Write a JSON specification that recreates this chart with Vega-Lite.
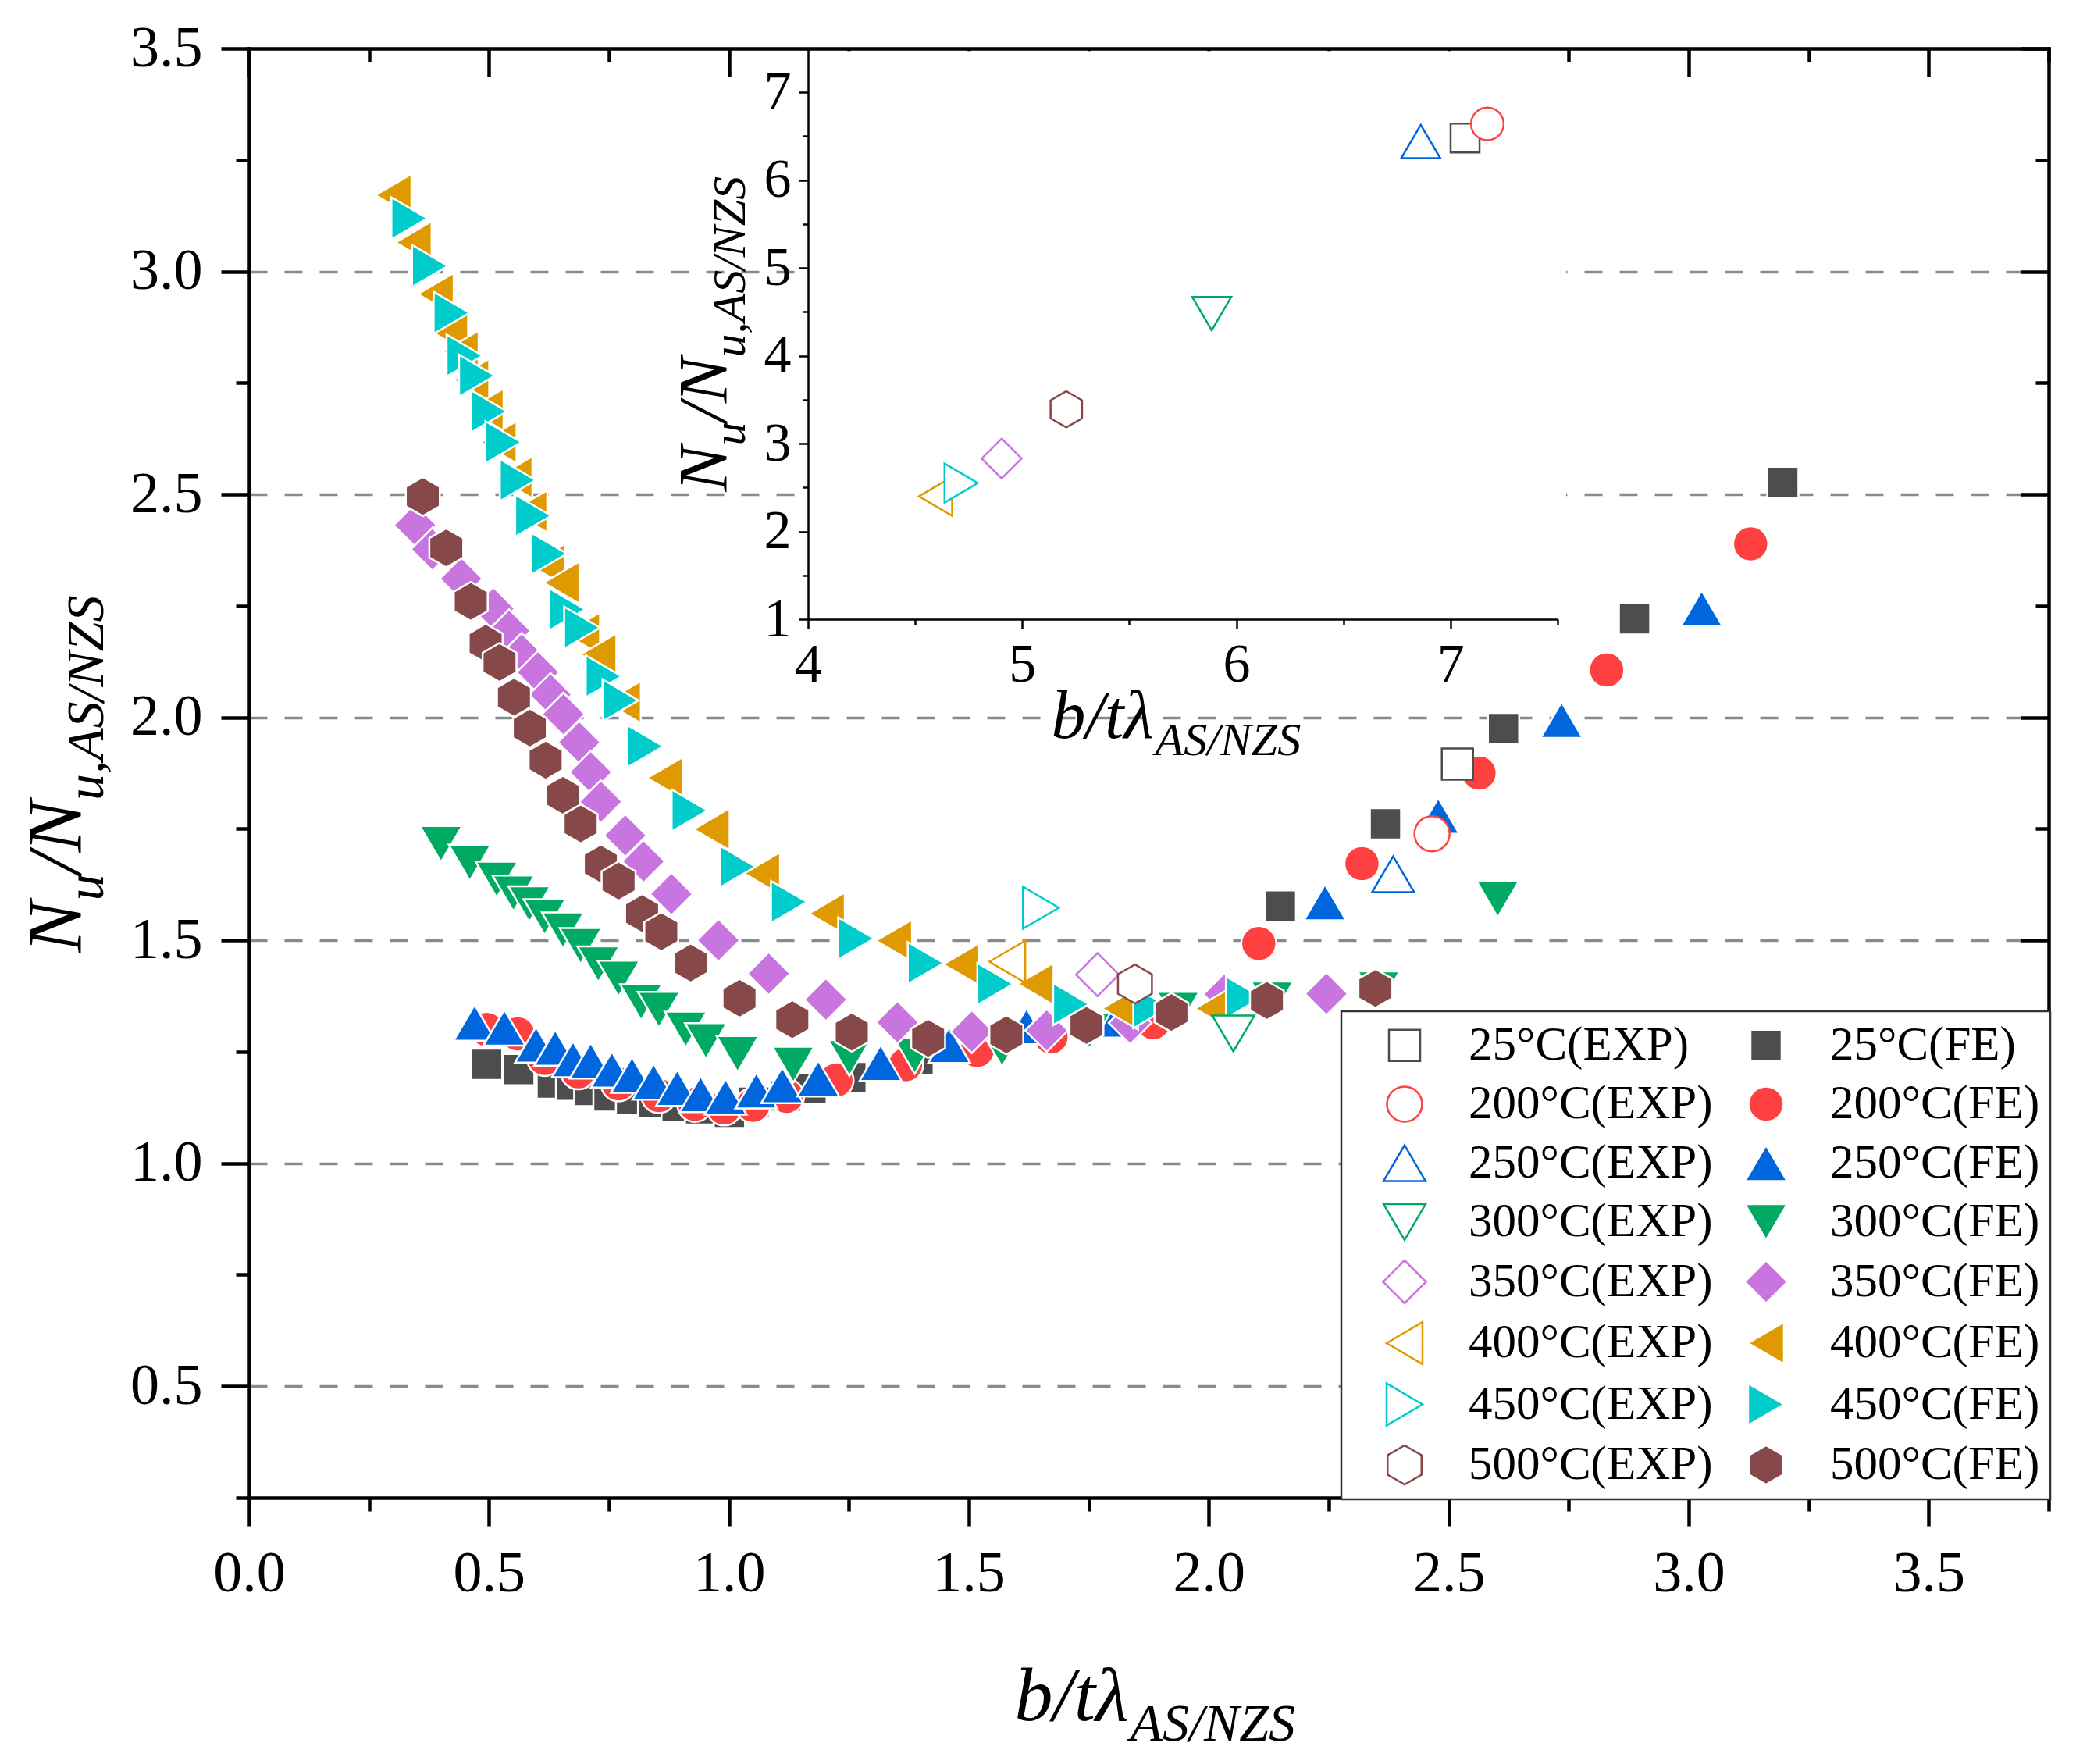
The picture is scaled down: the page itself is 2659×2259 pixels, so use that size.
{
  "$schema": "https://vega.github.io/schema/vega-lite/v6.json",
  "width": 2305,
  "height": 1856,
  "autosize": "none",
  "padding": {"left": 319, "top": 62, "right": 35, "bottom": 341},
  "background": "white",
  "datasets": {
    "main": [
      {"s": "25°C(FE)", "x": 0.495, "y": 1.222}, {"s": "25°C(FE)", "x": 0.562, "y": 1.21}, {"s": "25°C(FE)", "x": 0.632, "y": 1.18},
      {"s": "25°C(FE)", "x": 0.672, "y": 1.175}, {"s": "25°C(FE)", "x": 0.71, "y": 1.163}, {"s": "25°C(FE)", "x": 0.75, "y": 1.151},
      {"s": "25°C(FE)", "x": 0.797, "y": 1.144}, {"s": "25°C(FE)", "x": 0.843, "y": 1.137}, {"s": "25°C(FE)", "x": 0.892, "y": 1.128},
      {"s": "25°C(FE)", "x": 0.941, "y": 1.122}, {"s": "25°C(FE)", "x": 1.001, "y": 1.114}, {"s": "25°C(FE)", "x": 1.052, "y": 1.137},
      {"s": "25°C(FE)", "x": 1.118, "y": 1.151}, {"s": "25°C(FE)", "x": 1.171, "y": 1.167}, {"s": "25°C(FE)", "x": 1.254, "y": 1.192},
      {"s": "25°C(FE)", "x": 1.394, "y": 1.233}, {"s": "25°C(FE)", "x": 2.149, "y": 1.577}, {"s": "25°C(FE)", "x": 2.368, "y": 1.761},
      {"s": "25°C(FE)", "x": 2.614, "y": 1.975}, {"s": "25°C(FE)", "x": 2.887, "y": 2.221}, {"s": "25°C(FE)", "x": 3.196, "y": 2.527},

      {"s": "200°C(FE)", "x": 0.495, "y": 1.3}, {"s": "200°C(FE)", "x": 0.56, "y": 1.29}, {"s": "200°C(FE)", "x": 0.616, "y": 1.235},
      {"s": "200°C(FE)", "x": 0.686, "y": 1.205}, {"s": "200°C(FE)", "x": 0.77, "y": 1.178}, {"s": "200°C(FE)", "x": 0.854, "y": 1.152},
      {"s": "200°C(FE)", "x": 0.929, "y": 1.132}, {"s": "200°C(FE)", "x": 0.99, "y": 1.124}, {"s": "200°C(FE)", "x": 1.05, "y": 1.13},
      {"s": "200°C(FE)", "x": 1.12, "y": 1.15}, {"s": "200°C(FE)", "x": 1.223, "y": 1.186}, {"s": "200°C(FE)", "x": 1.368, "y": 1.221},
      {"s": "200°C(FE)", "x": 1.517, "y": 1.253}, {"s": "200°C(FE)", "x": 1.671, "y": 1.283}, {"s": "200°C(FE)", "x": 1.884, "y": 1.315},
      {"s": "200°C(FE)", "x": 2.104, "y": 1.493}, {"s": "200°C(FE)", "x": 2.319, "y": 1.672}, {"s": "200°C(FE)", "x": 2.563, "y": 1.875},
      {"s": "200°C(FE)", "x": 2.829, "y": 2.106}, {"s": "200°C(FE)", "x": 3.129, "y": 2.389},

      {"s": "250°C(FE)", "x": 0.47, "y": 1.315}, {"s": "250°C(FE)", "x": 0.532, "y": 1.304}, {"s": "250°C(FE)", "x": 0.598, "y": 1.266},
      {"s": "250°C(FE)", "x": 0.638, "y": 1.259}, {"s": "250°C(FE)", "x": 0.675, "y": 1.233}, {"s": "250°C(FE)", "x": 0.712, "y": 1.23},
      {"s": "250°C(FE)", "x": 0.756, "y": 1.21}, {"s": "250°C(FE)", "x": 0.798, "y": 1.198}, {"s": "250°C(FE)", "x": 0.843, "y": 1.183},
      {"s": "250°C(FE)", "x": 0.892, "y": 1.169}, {"s": "250°C(FE)", "x": 0.941, "y": 1.155}, {"s": "250°C(FE)", "x": 0.993, "y": 1.149},
      {"s": "250°C(FE)", "x": 1.057, "y": 1.163}, {"s": "250°C(FE)", "x": 1.111, "y": 1.175}, {"s": "250°C(FE)", "x": 1.186, "y": 1.19},
      {"s": "250°C(FE)", "x": 1.316, "y": 1.225}, {"s": "250°C(FE)", "x": 1.459, "y": 1.265}, {"s": "250°C(FE)", "x": 1.62, "y": 1.307},
      {"s": "250°C(FE)", "x": 1.796, "y": 1.322}, {"s": "250°C(FE)", "x": 2.242, "y": 1.585}, {"s": "250°C(FE)", "x": 2.478, "y": 1.779},
      {"s": "250°C(FE)", "x": 2.735, "y": 1.994}, {"s": "250°C(FE)", "x": 3.027, "y": 2.244},

      {"s": "300°C(FE)", "x": 0.4, "y": 1.716}, {"s": "300°C(FE)", "x": 0.46, "y": 1.674}, {"s": "300°C(FE)", "x": 0.516, "y": 1.636},
      {"s": "300°C(FE)", "x": 0.551, "y": 1.605}, {"s": "300°C(FE)", "x": 0.584, "y": 1.581}, {"s": "300°C(FE)", "x": 0.616, "y": 1.552},
      {"s": "300°C(FE)", "x": 0.654, "y": 1.522}, {"s": "300°C(FE)", "x": 0.691, "y": 1.487}, {"s": "300°C(FE)", "x": 0.728, "y": 1.446},
      {"s": "300°C(FE)", "x": 0.77, "y": 1.414}, {"s": "300°C(FE)", "x": 0.817, "y": 1.361}, {"s": "300°C(FE)", "x": 0.854, "y": 1.344},
      {"s": "300°C(FE)", "x": 0.91, "y": 1.3}, {"s": "300°C(FE)", "x": 0.952, "y": 1.274}, {"s": "300°C(FE)", "x": 1.018, "y": 1.245},
      {"s": "300°C(FE)", "x": 1.134, "y": 1.221}, {"s": "300°C(FE)", "x": 1.251, "y": 1.236}, {"s": "300°C(FE)", "x": 1.387, "y": 1.241},
      {"s": "300°C(FE)", "x": 1.569, "y": 1.257}, {"s": "300°C(FE)", "x": 1.751, "y": 1.297}, {"s": "300°C(FE)", "x": 1.936, "y": 1.344},
      {"s": "300°C(FE)", "x": 2.132, "y": 1.367}, {"s": "300°C(FE)", "x": 2.354, "y": 1.39}, {"s": "300°C(FE)", "x": 2.602, "y": 1.592},

      {"s": "350°C(FE)", "x": 0.346, "y": 2.431}, {"s": "350°C(FE)", "x": 0.382, "y": 2.377}, {"s": "350°C(FE)", "x": 0.442, "y": 2.311},
      {"s": "350°C(FE)", "x": 0.509, "y": 2.244}, {"s": "350°C(FE)", "x": 0.542, "y": 2.194}, {"s": "350°C(FE)", "x": 0.568, "y": 2.141},
      {"s": "350°C(FE)", "x": 0.602, "y": 2.101}, {"s": "350°C(FE)", "x": 0.628, "y": 2.051}, {"s": "350°C(FE)", "x": 0.655, "y": 2.007},
      {"s": "350°C(FE)", "x": 0.688, "y": 1.944}, {"s": "350°C(FE)", "x": 0.712, "y": 1.877}, {"s": "350°C(FE)", "x": 0.733, "y": 1.811},
      {"s": "350°C(FE)", "x": 0.784, "y": 1.735}, {"s": "350°C(FE)", "x": 0.822, "y": 1.677}, {"s": "350°C(FE)", "x": 0.88, "y": 1.604},
      {"s": "350°C(FE)", "x": 0.978, "y": 1.5}, {"s": "350°C(FE)", "x": 1.083, "y": 1.425}, {"s": "350°C(FE)", "x": 1.202, "y": 1.367},
      {"s": "350°C(FE)", "x": 1.351, "y": 1.316}, {"s": "350°C(FE)", "x": 1.506, "y": 1.295}, {"s": "350°C(FE)", "x": 1.662, "y": 1.298},
      {"s": "350°C(FE)", "x": 1.836, "y": 1.315}, {"s": "350°C(FE)", "x": 2.033, "y": 1.379}, {"s": "350°C(FE)", "x": 2.245, "y": 1.38},

      {"s": "400°C(FE)", "x": 0.301, "y": 3.171}, {"s": "400°C(FE)", "x": 0.343, "y": 3.065}, {"s": "400°C(FE)", "x": 0.389, "y": 2.949},
      {"s": "400°C(FE)", "x": 0.419, "y": 2.864}, {"s": "400°C(FE)", "x": 0.441, "y": 2.82}, {"s": "400°C(FE)", "x": 0.463, "y": 2.757},
      {"s": "400°C(FE)", "x": 0.493, "y": 2.69}, {"s": "400°C(FE)", "x": 0.52, "y": 2.617}, {"s": "400°C(FE)", "x": 0.553, "y": 2.538},
      {"s": "400°C(FE)", "x": 0.584, "y": 2.462}, {"s": "400°C(FE)", "x": 0.621, "y": 2.342}, {"s": "400°C(FE)", "x": 0.651, "y": 2.302},
      {"s": "400°C(FE)", "x": 0.694, "y": 2.188}, {"s": "400°C(FE)", "x": 0.728, "y": 2.141}, {"s": "400°C(FE)", "x": 0.779, "y": 2.034},
      {"s": "400°C(FE)", "x": 0.867, "y": 1.864}, {"s": "400°C(FE)", "x": 0.964, "y": 1.749}, {"s": "400°C(FE)", "x": 1.069, "y": 1.65},
      {"s": "400°C(FE)", "x": 1.204, "y": 1.56}, {"s": "400°C(FE)", "x": 1.344, "y": 1.499}, {"s": "400°C(FE)", "x": 1.484, "y": 1.446},
      {"s": "400°C(FE)", "x": 1.639, "y": 1.402}, {"s": "400°C(FE)", "x": 1.815, "y": 1.347}, {"s": "400°C(FE)", "x": 2.009, "y": 1.347},

      {"s": "450°C(FE)", "x": 0.334, "y": 3.119}, {"s": "450°C(FE)", "x": 0.377, "y": 3.012}, {"s": "450°C(FE)", "x": 0.422, "y": 2.907},
      {"s": "450°C(FE)", "x": 0.449, "y": 2.811}, {"s": "450°C(FE)", "x": 0.475, "y": 2.766}, {"s": "450°C(FE)", "x": 0.5, "y": 2.686},
      {"s": "450°C(FE)", "x": 0.53, "y": 2.617}, {"s": "450°C(FE)", "x": 0.56, "y": 2.532}, {"s": "450°C(FE)", "x": 0.592, "y": 2.452},
      {"s": "450°C(FE)", "x": 0.625, "y": 2.367}, {"s": "450°C(FE)", "x": 0.663, "y": 2.242}, {"s": "450°C(FE)", "x": 0.694, "y": 2.201},
      {"s": "450°C(FE)", "x": 0.739, "y": 2.092}, {"s": "450°C(FE)", "x": 0.774, "y": 2.038}, {"s": "450°C(FE)", "x": 0.826, "y": 1.935},
      {"s": "450°C(FE)", "x": 0.918, "y": 1.791}, {"s": "450°C(FE)", "x": 1.018, "y": 1.665}, {"s": "450°C(FE)", "x": 1.125, "y": 1.586},
      {"s": "450°C(FE)", "x": 1.265, "y": 1.504}, {"s": "450°C(FE)", "x": 1.41, "y": 1.449}, {"s": "450°C(FE)", "x": 1.555, "y": 1.402},
      {"s": "450°C(FE)", "x": 1.713, "y": 1.357}, {"s": "450°C(FE)", "x": 1.88, "y": 1.35}, {"s": "450°C(FE)", "x": 2.073, "y": 1.372},

      {"s": "500°C(FE)", "x": 0.362, "y": 2.495}, {"s": "500°C(FE)", "x": 0.411, "y": 2.38}, {"s": "500°C(FE)", "x": 0.462, "y": 2.26},
      {"s": "500°C(FE)", "x": 0.493, "y": 2.166}, {"s": "500°C(FE)", "x": 0.522, "y": 2.123}, {"s": "500°C(FE)", "x": 0.552, "y": 2.045},
      {"s": "500°C(FE)", "x": 0.585, "y": 1.976}, {"s": "500°C(FE)", "x": 0.618, "y": 1.904}, {"s": "500°C(FE)", "x": 0.654, "y": 1.825},
      {"s": "500°C(FE)", "x": 0.691, "y": 1.761}, {"s": "500°C(FE)", "x": 0.733, "y": 1.671}, {"s": "500°C(FE)", "x": 0.77, "y": 1.633},
      {"s": "500°C(FE)", "x": 0.819, "y": 1.56}, {"s": "500°C(FE)", "x": 0.859, "y": 1.519}, {"s": "500°C(FE)", "x": 0.92, "y": 1.449},
      {"s": "500°C(FE)", "x": 1.022, "y": 1.37}, {"s": "500°C(FE)", "x": 1.132, "y": 1.322}, {"s": "500°C(FE)", "x": 1.256, "y": 1.294},
      {"s": "500°C(FE)", "x": 1.415, "y": 1.28}, {"s": "500°C(FE)", "x": 1.578, "y": 1.288}, {"s": "500°C(FE)", "x": 1.745, "y": 1.309},
      {"s": "500°C(FE)", "x": 1.922, "y": 1.338}, {"s": "500°C(FE)", "x": 2.121, "y": 1.365}, {"s": "500°C(FE)", "x": 2.347, "y": 1.392},

      {"s": "25°C(EXP)", "x": 2.518, "y": 1.895}, {"s": "200°C(EXP)", "x": 2.465, "y": 1.739},
      {"s": "250°C(EXP)", "x": 2.384, "y": 1.648}, {"s": "300°C(EXP)", "x": 2.051, "y": 1.291},
      {"s": "350°C(EXP)", "x": 1.768, "y": 1.423}, {"s": "400°C(EXP)", "x": 1.58, "y": 1.452},
      {"s": "450°C(EXP)", "x": 1.65, "y": 1.573}, {"s": "500°C(EXP)", "x": 1.846, "y": 1.402}
    ],
    "inset": [
      {"s": "400°C(EXP)", "x": 4.595, "y": 2.4}, {"s": "450°C(EXP)", "x": 4.715, "y": 2.55},
      {"s": "350°C(EXP)", "x": 4.904, "y": 2.83}, {"s": "500°C(EXP)", "x": 5.206, "y": 3.39},
      {"s": "300°C(EXP)", "x": 5.885, "y": 4.48}, {"s": "250°C(EXP)", "x": 6.861, "y": 6.44},
      {"s": "25°C(EXP)", "x": 7.068, "y": 6.48}, {"s": "200°C(EXP)", "x": 7.172, "y": 6.64}
    ]
  },
  "layer": [
    {
      "data": {"name": "main"},
      "mark": {"type": "point", "opacity": 0},
      "encoding": {
        "x": {
          "field": "x", "type": "quantitative",
          "scale": {"domain": [0, 3.75], "nice": false, "zero": false},
          "axis": {"orient": "bottom", "domain": false, "ticks": false, "labels": false, "grid": false,
            "title": "u,AS/NZS", "titleFontSize": 68, "titleAngle": 270, "titleAlign": "left", "titleBaseline": "alphabetic", "titleX": -188, "titleY": -893.5}
        },
        "y": {
          "field": "y", "type": "quantitative",
          "scale": {"domain": [0.25, 3.5], "nice": false, "zero": false},
          "axis": {"orient": "left", "domain": false, "ticks": false, "labels": false, "grid": false,
            "title": "/N", "titleFontSize": 100, "titleAngle": 270, "titleAlign": "left", "titleBaseline": "alphabetic", "titleX": -217, "titleY": 1057}
        }
      }
    },
    {
      "data": {"name": "main"},
      "transform": [{"filter": "indexof(datum.s, 'FE') >= 0"}],
      "mark": {"type": "point", "size": 3025, "strokeWidth": 2.5, "opacity": 1},
      "encoding": {
        "x": {
          "field": "x", "type": "quantitative",
          "scale": {"domain": [0, 3.75], "nice": false, "zero": false},
          "axis": {
            "orient": "bottom",
            "values": [0, 0.25, 0.5, 0.75, 1, 1.25, 1.5, 1.75, 2, 2.25, 2.5, 2.75, 3, 3.25, 3.5, 3.75],
            "labelExpr": "abs(datum.value*2-round(datum.value*2))<0.01 ? format(datum.value,'.1f') : ''",
            "tickSize": {"condition": {"test": "abs(datum.value*2-round(datum.value*2))<0.01", "value": 36}, "value": 17},
            "tickWidth": 4.5, "domainWidth": 4.5, "domainCap": "square",
            "labelFontSize": 74, "labelPadding": 25,
            "title": "b/tλ", "titleFontSize": 98, "titleAngle": 0, "titleAlign": "right", "titleBaseline": "alphabetic", "titleX": 1126, "titleY": 284
          }
        },
        "y": {
          "field": "y", "type": "quantitative",
          "scale": {"domain": [0.25, 3.5], "nice": false, "zero": false},
          "axis": {
            "orient": "left",
            "values": [0.25, 0.5, 0.75, 1, 1.25, 1.5, 1.75, 2, 2.25, 2.5, 2.75, 3, 3.25, 3.5],
            "labelExpr": "abs(datum.value*2-round(datum.value*2))<0.01 ? format(datum.value,'.1f') : ''",
            "tickSize": {"condition": {"test": "abs(datum.value*2-round(datum.value*2))<0.01", "value": 36}, "value": 17},
            "tickWidth": 4.5, "domainWidth": 4.5, "domainCap": "square",
            "labelFontSize": 74, "labelPadding": 24,
            "grid": true, "gridColor": "#8a8a8a", "gridDash": [23, 22], "gridWidth": 3.5,
            "gridOpacity": {"condition": {"test": "abs(datum.value*2-round(datum.value*2))<0.01 && datum.value<3.4", "value": 1}, "value": 0},
            "title": "N", "titleFontSize": 100, "titleAngle": 270, "titleAlign": "left", "titleBaseline": "alphabetic", "titleX": -217, "titleY": 1158
          }
        },
        "shape": {
          "field": "s", "type": "nominal",
          "scale": {
            "domain": ["25°C(EXP)", "25°C(FE)", "200°C(EXP)", "200°C(FE)", "250°C(EXP)", "250°C(FE)", "300°C(EXP)", "300°C(FE)", "350°C(EXP)", "350°C(FE)", "400°C(EXP)", "400°C(FE)", "450°C(EXP)", "450°C(FE)", "500°C(EXP)", "500°C(FE)"],
            "range": [
              "M-0.727,-0.727L0.727,-0.727L0.727,0.727L-0.727,0.727Z", "M-0.727,-0.727L0.727,-0.727L0.727,0.727L-0.727,0.727Z",
              "M-0.818,0A0.818,0.818,0,1,1,0.818,0A0.818,0.818,0,1,1,-0.818,0Z", "M-0.818,0A0.818,0.818,0,1,1,0.818,0A0.818,0.818,0,1,1,-0.818,0Z",
              "M0,-0.836L0.98,0.836L-0.98,0.836Z", "M0,-0.836L0.98,0.836L-0.98,0.836Z",
              "M0,0.836L0.98,-0.836L-0.98,-0.836Z", "M0,0.836L0.98,-0.836L-0.98,-0.836Z",
              "M0,-1L1,0L0,1L-1,0Z", "M0,-1L1,0L0,1L-1,0Z",
              "M-0.836,0L0.836,-0.98L0.836,0.98Z", "M-0.836,0L0.836,-0.98L0.836,0.98Z",
              "M0.836,0L-0.836,-0.98L-0.836,0.98Z", "M0.836,0L-0.836,-0.98L-0.836,0.98Z",
              "M0,-0.91L0.79,-0.455L0.79,0.455L0,0.91L-0.79,0.455L-0.79,-0.455Z", "M0,-0.91L0.79,-0.455L0.79,0.455L0,0.91L-0.79,0.455L-0.79,-0.455Z"
            ]
          },
          "legend": {"title": null, "orient": "none", "legendX": 1399, "legendY": 1233, "columns": 2, "direction": "horizontal"}
        },
        "fill": {
          "field": "s", "type": "nominal",
          "scale": {
            "domain": ["25°C(EXP)", "25°C(FE)", "200°C(EXP)", "200°C(FE)", "250°C(EXP)", "250°C(FE)", "300°C(EXP)", "300°C(FE)", "350°C(EXP)", "350°C(FE)", "400°C(EXP)", "400°C(FE)", "450°C(EXP)", "450°C(FE)", "500°C(EXP)", "500°C(FE)"],
            "range": ["white", "#4d4d4d", "white", "#ff4040", "white", "#0066dd", "white", "#00aa63", "white", "#c875e0", "white", "#de9a00", "white", "#00cccc", "white", "#864848"]
          },
          "legend": {"title": null, "orient": "none", "legendX": 1399, "legendY": 1233, "columns": 2, "direction": "horizontal"}
        },
        "stroke": {
          "field": "s", "type": "nominal",
          "scale": {
            "domain": ["25°C(EXP)", "25°C(FE)", "200°C(EXP)", "200°C(FE)", "250°C(EXP)", "250°C(FE)", "300°C(EXP)", "300°C(FE)", "350°C(EXP)", "350°C(FE)", "400°C(EXP)", "400°C(FE)", "450°C(EXP)", "450°C(FE)", "500°C(EXP)", "500°C(FE)"],
            "range": ["#4d4d4d", "white", "#ff4040", "white", "#0066dd", "white", "#00aa63", "white", "#c875e0", "white", "#de9a00", "white", "#00cccc", "white", "#864848", "white"]
          },
          "legend": {"title": null, "orient": "none", "legendX": 1399, "legendY": 1233, "columns": 2, "direction": "horizontal"}
        }
      }
    },
    {
      "data": {"name": "main"},
      "transform": [{"filter": "indexof(datum.s, 'EXP') >= 0"}],
      "mark": {"type": "point", "size": 3025, "strokeWidth": 2.5, "opacity": 1},
      "encoding": {
        "x": {
          "field": "x", "type": "quantitative",
          "scale": {"domain": [0, 3.75], "nice": false, "zero": false},
          "axis": {
            "orient": "top",
            "values": [0, 0.25, 0.5, 0.75, 1, 1.25, 1.5, 1.75, 2, 2.25, 2.5, 2.75, 3, 3.25, 3.5, 3.75],
            "labels": false,
            "tickSize": {"condition": {"test": "abs(datum.value*2-round(datum.value*2))<0.01", "value": -36}, "value": -17},
            "tickWidth": 4.5, "domainWidth": 4.5, "domainCap": "square",
            "title": "AS/NZS", "titleFontSize": 68, "titleAngle": 0, "titleAlign": "left", "titleBaseline": "alphabetic", "titleX": 1128, "titleY": 2166
          }
        },
        "y": {
          "field": "y", "type": "quantitative",
          "scale": {"domain": [0.25, 3.5], "nice": false, "zero": false},
          "axis": {
            "orient": "right",
            "values": [0.25, 0.5, 0.75, 1, 1.25, 1.5, 1.75, 2, 2.25, 2.5, 2.75, 3, 3.25, 3.5],
            "labels": false,
            "tickSize": {"condition": {"test": "abs(datum.value*2-round(datum.value*2))<0.01", "value": -36}, "value": -17},
            "tickWidth": 4.5, "domainWidth": 4.5, "domainCap": "square",
            "title": "u", "titleFontSize": 68, "titleAngle": 270, "titleAlign": "left", "titleBaseline": "alphabetic", "titleX": -2493, "titleY": 1091
          }
        },
        "shape": {"field": "s", "type": "nominal"},
        "fill": {"field": "s", "type": "nominal"},
        "stroke": {"field": "s", "type": "nominal"}
      }
    },
    {
      "data": {"values": [{}]},
      "mark": {"type": "rect", "fill": "white"},
      "encoding": {
        "x": {
          "datum": 3.95, "type": "quantitative",
          "scale": {"domain": [4, 7.5], "range": [716, 1676], "nice": false, "zero": false},
          "axis": {
            "orient": "bottom", "offset": -1125, "zindex": 1,
            "values": [4, 4.5, 5, 5.5, 6, 6.5, 7, 7.5],
            "labelExpr": "abs(datum.value-round(datum.value))<0.01 ? format(datum.value,'d') : ''",
            "tickSize": {"condition": {"test": "abs(datum.value-round(datum.value))<0.01", "value": 12}, "value": 7},
            "tickWidth": 2.5, "domainWidth": 2.5,
            "labelFontSize": 70, "labelPadding": 12,
            "title": "b/tλ", "titleFontSize": 88, "titleAngle": 0, "titleAlign": "right", "titleBaseline": "alphabetic", "titleX": 1158, "titleY": 151
          }
        },
        "x2": {"datum": 7.54},
        "y": {
          "datum": 1, "type": "quantitative",
          "scale": {"domain": [1, 7.5], "range": [731, 0], "nice": false, "zero": false},
          "axis": {
            "orient": "left", "offset": -716, "zindex": 1,
            "values": [1, 1.5, 2, 2.5, 3, 3.5, 4, 4.5, 5, 5.5, 6, 6.5, 7, 7.5],
            "labelExpr": "abs(datum.value-round(datum.value))<0.01 ? format(datum.value,'d') : ''",
            "tickSize": {"condition": {"test": "abs(datum.value-round(datum.value))<0.01", "value": 12}, "value": 7},
            "tickWidth": 2.5, "domainWidth": 2.5,
            "labelFontSize": 70, "labelPadding": 10,
            "title": "N", "titleFontSize": 88, "titleAngle": 270, "titleAlign": "left", "titleBaseline": "alphabetic", "titleX": -106, "titleY": 567
          }
        },
        "y2": {"datum": 7.47}
      }
    },
    {
      "data": {"name": "inset"},
      "mark": {"type": "point", "size": 2600, "strokeWidth": 2.5, "opacity": 1},
      "encoding": {
        "x": {
          "field": "x", "type": "quantitative",
          "scale": {"domain": [4, 7.5], "range": [716, 1676], "nice": false, "zero": false},
          "axis": {"orient": "top", "domain": false, "ticks": false, "labels": false, "grid": false,
            "title": "AS/NZS", "titleFontSize": 60, "titleAngle": 0, "titleAlign": "left", "titleBaseline": "alphabetic", "titleX": 1160, "titleY": 904}
        },
        "y": {
          "field": "y", "type": "quantitative",
          "scale": {"domain": [1, 7.5], "range": [731, 0], "nice": false, "zero": false},
          "axis": {"orient": "left", "domain": false, "ticks": false, "labels": false, "grid": false,
            "title": "u", "titleFontSize": 60, "titleAngle": 270, "titleAlign": "left", "titleBaseline": "alphabetic", "titleX": 634, "titleY": 508}
        },
        "shape": {"field": "s", "type": "nominal"},
        "fill": {"field": "s", "type": "nominal"},
        "stroke": {"field": "s", "type": "nominal"}
      }
    },
    {
      "data": {"name": "inset"},
      "mark": {"type": "point", "opacity": 0},
      "encoding": {
        "x": {
          "field": "x", "type": "quantitative",
          "scale": {"domain": [4, 7.5], "range": [716, 1676], "nice": false, "zero": false},
          "axis": {"orient": "bottom", "domain": false, "ticks": false, "labels": false, "grid": false,
            "title": "u,AS/NZS", "titleFontSize": 60, "titleAngle": 270, "titleAlign": "left", "titleBaseline": "alphabetic", "titleX": 634, "titleY": -1461}
        },
        "y": {
          "field": "y", "type": "quantitative",
          "scale": {"domain": [1, 7.5], "range": [731, 0], "nice": false, "zero": false},
          "axis": {"orient": "left", "domain": false, "ticks": false, "labels": false, "grid": false,
            "title": "/N", "titleFontSize": 88, "titleAngle": 270, "titleAlign": "left", "titleBaseline": "alphabetic", "titleX": 610, "titleY": 478}
        }
      }
    }
  ],
  "resolve": {"scale": {"x": "independent", "y": "independent"}},
  "config": {
    "font": "Liberation Serif",
    "view": {"stroke": null},
    "axis": {
      "labelFont": "Liberation Serif", "titleFont": "Liberation Serif",
      "labelColor": "black", "titleColor": "black", "domainColor": "black", "tickColor": "black",
      "titleFontWeight": "normal", "titleFontStyle": "italic",
      "labelFlush": false, "labelOverlap": false, "grid": false
    },
    "legend": {
      "labelFont": "Liberation Serif", "labelFontSize": 61, "labelColor": "black", "labelLimit": 1000,
      "symbolSize": 3025, "symbolStrokeWidth": 2.5, "symbolOffset": 37.5, "labelOffset": 51.5,
      "rowPadding": 13.5, "columnPadding": 0, "padding": 13,
      "strokeColor": "#333333", "strokeWidth": 2.5, "fillColor": "white"
    }
  }
}
